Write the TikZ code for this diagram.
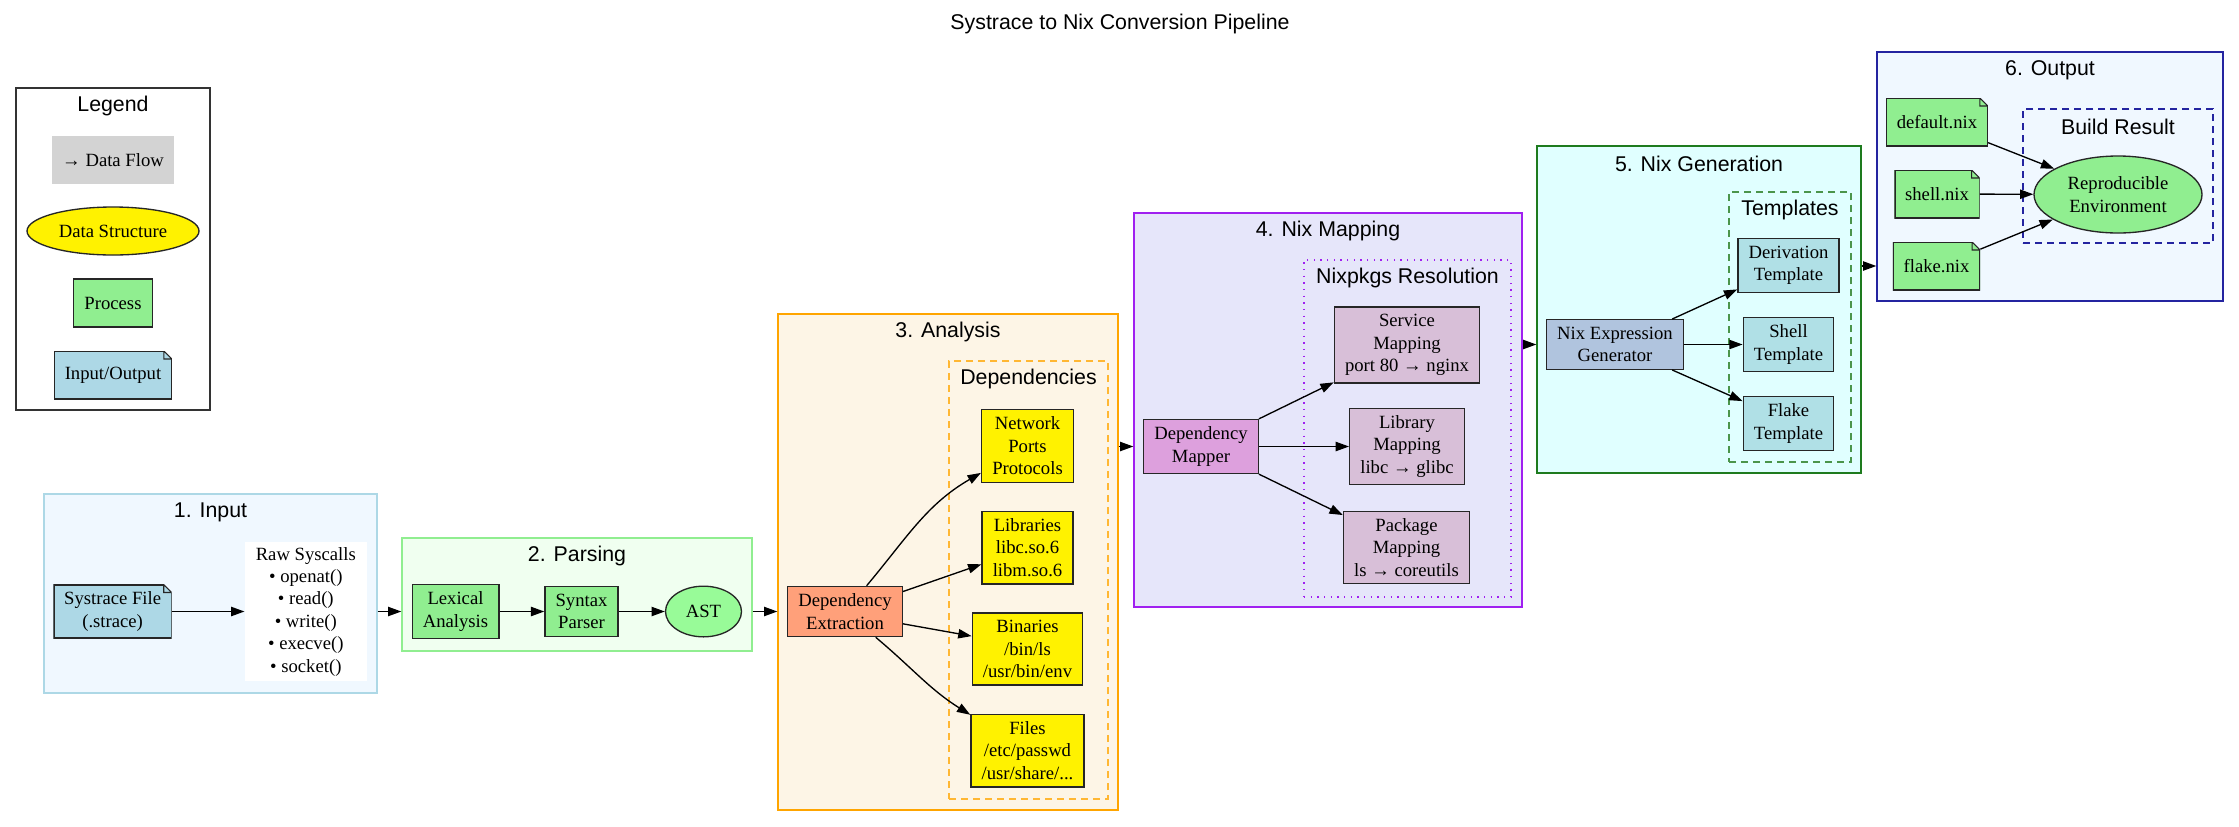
\documentclass[tikz,border=0pt]{standalone}
\usepackage{fontspec}
\setmainfont{Liberation Serif}
\newfontfamily\labelfont{Liberation Sans}
\usetikzlibrary{arrows.meta,shapes.geometric,fit}

\definecolor{inputbg}{HTML}{F0F8FF}
\definecolor{inputline}{HTML}{ADD8E6}
\definecolor{parsebg}{HTML}{F0FFF0}
\definecolor{parseline}{HTML}{90EE90}
\definecolor{analysisbg}{HTML}{FDF5E6}
\definecolor{analysisline}{HTML}{FFA500}
\definecolor{mapbg}{HTML}{E6E6FA}
\definecolor{mapline}{HTML}{A020F0}
\definecolor{genbg}{HTML}{E0FFFF}
\definecolor{genline}{HTML}{1E7B1E}
\definecolor{outputbg}{HTML}{F0F8FF}
\definecolor{outputline}{HTML}{2424A0}
\definecolor{iofill}{HTML}{ADD8E6}
\definecolor{procgreen}{HTML}{90EE90}
\definecolor{astgreen}{HTML}{98FB98}
\definecolor{salmon}{HTML}{FFA07A}
\definecolor{plumfill}{HTML}{DDA0DD}
\definecolor{thistlefill}{HTML}{D8BFD8}
\definecolor{genfill}{HTML}{B0C4DE}
\definecolor{tplfill}{HTML}{B0E0E6}
\definecolor{keygray}{HTML}{D3D3D3}

\newcommand\nodesize{\fontsize{14pt}{16.8pt}\selectfont}
\newcommand\stagesize{\fontsize{16pt}{19.2pt}\selectfont}

\tikzset{
  stage/.style 2 args={draw=#2, fill=#1, line width=1pt, inner sep=0pt},
  substage/.style={draw=#1, line width=1pt, inner sep=0pt},
  stagelabel/.style={font=\labelfont\stagesize, anchor=center, yshift=-14pt, inner sep=0pt},
  proc/.style={rectangle, draw=black!85, fill=#1, line width=1pt, font=\nodesize,
    align=center, inner xsep=8pt, inner ysep=5.5pt, minimum height=36pt, minimum width=54pt},
  datum/.style={ellipse, draw=black!85, fill=#1, line width=1pt, font=\nodesize,
    align=center, inner sep=0pt},
  iofile/.style={rectangle, font=\nodesize, align=center, inner xsep=8pt, inner ysep=5.5pt,
    minimum height=36pt, minimum width=54pt,
    path picture={
      \coordinate (pnw) at (path picture bounding box.north west);
      \coordinate (pne) at (path picture bounding box.north east);
      \coordinate (pse) at (path picture bounding box.south east);
      \coordinate (psw) at (path picture bounding box.south west);
      \fill[#1] (pnw) -- ([xshift=-6pt]pne) -- ([yshift=-6pt]pne) -- (pse) -- (psw) -- cycle;
      \draw[black!85, line width=1.6pt] ([xshift=-6pt]pne) -- (pnw) -- (psw) -- (pse) -- ([yshift=-6pt]pne);
      \draw[black!85, line width=0.8pt] ([xshift=-6pt]pne) -- ([yshift=-6pt]pne)
        -- ([xshift=-6pt,yshift=-6pt]pne) -- cycle;
    }},
  flow/.style={-{Triangle[length=10pt,width=7pt]}, line width=1pt},
}

\begin{document}
\begin{tikzpicture}[x=0.75pt,y=-0.75pt]
  \useasboundingbox (0,0) rectangle (2239,826);

  \node[font=\labelfont\stagesize] (title) at (1120,24) {Systrace to Nix Conversion Pipeline};

  % clusters
  \node[stage={white}{black!80}, fit={(16,88) (210,410)}, label={[stagelabel]north:Legend}] (legend) {};
  \node[stage={inputbg}{inputline}, fit={(44,494) (377,693)}, label={[stagelabel]north:1. Input}] (c1) {};
  \node[stage={parsebg}{parseline}, fit={(402,538) (752,651)}, label={[stagelabel]north:2. Parsing}] (c2) {};
  \node[stage={analysisbg}{analysisline}, fit={(778,314) (1118,810)}, label={[stagelabel]north:3. Analysis}] (c3) {};
  \node[substage=analysisline!80, dash pattern=on 5pt off 4pt, fit={(949,361) (1108,799)},
    label={[stagelabel]north:Dependencies}] (deps) {};
  \node[stage={mapbg}{mapline}, fit={(1134,213) (1522,607)}, label={[stagelabel]north:4. Nix Mapping}] (c4) {};
  \node[substage=mapline, dash pattern=on 1pt off 4pt, fit={(1304,260) (1511,597)},
    label={[stagelabel]north:Nixpkgs Resolution}] (nixpkgs) {};
  \node[stage={genbg}{genline}, fit={(1537,146) (1861,473)}, label={[stagelabel]north:5. Nix Generation}] (c5) {};
  \node[substage=genline!80, dash pattern=on 5pt off 4pt, fit={(1729,192) (1851,462)},
    label={[stagelabel]north:Templates}] (templates) {};
  \node[stage={outputbg}{outputline}, fit={(1877,52) (2223,301)}, label={[stagelabel]north:6. Output}] (c6) {};
  \node[substage=outputline, dash pattern=on 5pt off 4pt, fit={(2023,109) (2213,243)},
    label={[stagelabel]north:Build Result}] (build) {};

  % legend
  \node[proc=keygray, draw=none] (keyflow) at (113,160) {→ Data Flow};
  \node[datum=yellow, minimum width=129pt, minimum height=36pt] (keydata) at (113,231) {Data Structure};
  \node[proc=procgreen] (keyproc) at (113,303) {Process};
  \node[iofile=iofill] (keyio) at (113,375) {Input/Output};

  % 1. input
  \node[iofile=iofill] (sysfile) at (112.6,611.5) {Systrace File\\(.strace)};
  \node[proc=white, draw=none, inner ysep=4pt] (raw) at (305.8,611.5)
    {Raw Syscalls\\• openat()\\• read()\\• write()\\• execve()\\• socket()};

  % 2. parsing
  \node[proc=procgreen] (lex) at (455.5,611.5) {Lexical\\Analysis};
  \node[proc=procgreen] (parser) at (581.5,611.5) {Syntax\\Parser};
  \node[datum=astgreen, minimum width=57pt, minimum height=38pt] (ast) at (703.5,611.5) {AST};

  % 3. analysis
  \node[proc=salmon] (ext) at (845,611.5) {Dependency\\Extraction};
  \node[proc=yellow] (net) at (1027.5,446) {Network\\Ports\\Protocols};
  \node[proc=yellow] (libs) at (1027.5,547.5) {Libraries\\libc.so.6\\libm.so.6};
  \node[proc=yellow] (bins) at (1027.5,649) {Binaries\\/bin/ls\\/usr/bin/env};
  \node[proc=yellow] (files) at (1027.5,750.5) {Files\\/etc/passwd\\/usr/share/...};

  % 4. nix mapping
  \node[proc=plumfill] (mapper) at (1201,446.5) {Dependency\\Mapper};
  \node[proc=thistlefill] (svcmap) at (1407,345) {Service\\Mapping\\port 80 → nginx};
  \node[proc=thistlefill] (libmap) at (1407,446.5) {Library\\Mapping\\libc → glibc};
  \node[proc=thistlefill] (pkgmap) at (1406.5,547.5) {Package\\Mapping\\ls → coreutils};

  % 5. nix generation
  \node[proc=genfill] (gen) at (1615,344.5) {Nix Expression\\Generator};
  \node[proc=tplfill] (derivtpl) at (1788.5,265.5) {Derivation\\Template};
  \node[proc=tplfill] (shelltpl) at (1788.5,344.5) {Shell\\Template};
  \node[proc=tplfill] (flaketpl) at (1788.5,423.5) {Flake\\Template};

  % 6. output
  \node[iofile=procgreen] (defnix) at (1937,122) {default.nix};
  \node[iofile=procgreen] (shellnix) at (1937,194) {shell.nix};
  \node[iofile=procgreen] (flakenix) at (1936.5,266) {flake.nix};
  \node[datum=procgreen, minimum width=126pt, minimum height=57.75pt] (env) at (2118,194.5)
    {Reproducible\\Environment};

  % edges
  \draw[flow] (sysfile) -- (raw);
  \draw[flow] (c1.east |- raw) -- (c2.west |- raw);
  \draw[flow] (lex) -- (parser);
  \draw[flow] (parser) -- (ast);
  \draw[flow] (c2.east |- ast) -- (c3.west |- ast);
  \draw[flow] (ext) to[out=50,in=210] (net);
  \draw[flow] (ext.19) -- (libs.200);
  \draw[flow] (ext.-12) -- (bins.167);
  \draw[flow] (ext) to[out=-40,in=148] (files);
  \draw[flow] (c3.east |- mapper) -- (c4.west |- mapper);
  \draw[flow] (mapper.north east) -- (svcmap.207);
  \draw[flow] (mapper) -- (libmap);
  \draw[flow] (mapper.south east) -- (pkgmap.153);
  \draw[flow] (c4.east |- gen) -- (c5.west |- gen);
  \draw[flow] (gen.24) -- (derivtpl.205);
  \draw[flow] (gen) -- (shelltpl);
  \draw[flow] (gen.-24) -- (flaketpl.154);
  \draw[flow] (c5.east |- flakenix) -- (c6.west |- flakenix);
  \draw[flow] (defnix.-22) -- (env.158);
  \draw[flow] (shellnix) -- (env);
  \draw[flow] (flakenix.21) -- (env.201);
\end{tikzpicture}
\end{document}
